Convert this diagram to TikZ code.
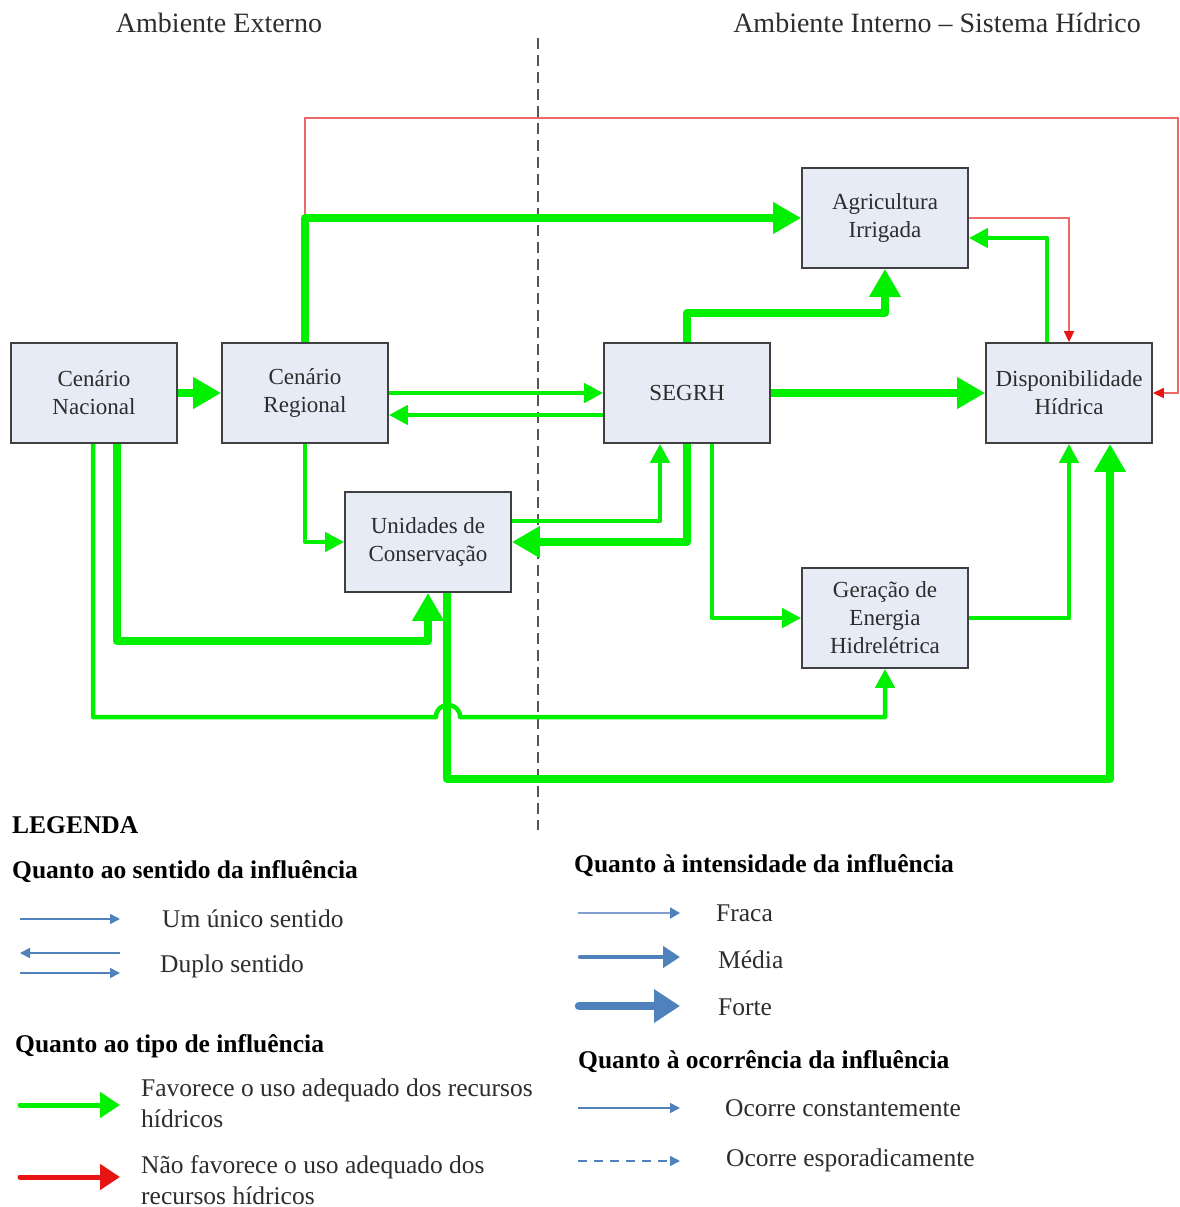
\documentclass[tikz,border=0pt]{standalone}
\usepackage{fontspec}
\setmainfont{Liberation Serif}
\usetikzlibrary{arrows.meta}
\definecolor{gr}{RGB}{0,240,0}
\definecolor{boxfill}{RGB}{230,235,246}
\definecolor{boxline}{RGB}{64,64,64}
\definecolor{redl}{RGB}{236,105,105}
\definecolor{redh}{RGB}{232,20,20}
\definecolor{lblue}{RGB}{79,129,189}
\definecolor{lbluelight}{RGB}{128,158,208}
\definecolor{txt}{RGB}{45,45,45}
\definecolor{dashc}{RGB}{85,85,85}
\begin{document}
\begin{tikzpicture}[x=1pt,y=-1pt,
  box/.style={draw=boxline, line width=1.8pt, fill=boxfill, minimum width=166pt, minimum height=100pt, inner sep=0pt, align=center, font=\fontsize{23}{28}\selectfont, text=txt},
  gthick/.style={draw=gr, line width=8pt, line join=round, -{Triangle[length=28pt,width=30pt]}},
  gmed/.style={draw=gr, line width=4.5pt, line join=round, -{Triangle[length=19pt,width=19pt]}},
  rline/.style={draw=redl, line width=1.6pt, -{Triangle[length=11pt,width=10pt,color=redh]}},
  hdr/.style={font=\fontsize{28}{32}\selectfont, text=txt, inner sep=0pt},
  lgt/.style={font=\fontsize{25.5}{31}\selectfont, text=txt, inner sep=0pt, anchor=west, align=left},
  lgb/.style={font=\fontsize{25.5}{31}\selectfont\bfseries, text=black, inner sep=0pt, anchor=west},
  bthin/.style={draw=lblue, line width=1.6pt, -{Triangle[length=10pt,width=10pt]}},
  bfraca/.style={draw=lbluelight, line width=2pt, -{Triangle[length=10pt,width=11pt,color=lblue]}},
  bmedia/.style={draw=lblue, line width=4.5pt, line cap=round, -{Triangle[length=17pt,width=21pt]}},
  bforte/.style={draw=lblue, line width=8.5pt, line cap=round, -{Triangle[length=26pt,width=32pt]}},
  bdash/.style={draw=lblue, line width=1.6pt, dash pattern=on 9pt off 7pt, -{Triangle[length=10pt,width=10pt]}},
  lgreen/.style={draw=gr, line width=5pt, line cap=round, -{Triangle[length=20pt,width=25pt]}},
  lred/.style={draw=redh, line width=5pt, line cap=round, -{Triangle[length=20pt,width=25pt]}},
  divider/.style={draw=dashc, line width=1.8pt, dash pattern=on 11pt off 6pt}
]
\useasboundingbox (0,0) rectangle (1179,1207);

% headers
\node[hdr] (hext) at (219,23) {Ambiente Externo};
\node[hdr] (hint) at (937,23) {Ambiente Interno – Sistema Hídrico};

% divider
\coordinate (dtop) at (538,38);
\coordinate (dbot) at (538,830);
\draw[divider] (dtop) -- (dbot);

% boxes
\node[box] (nac) at (94,393) {Cenário\\Nacional};
\node[box] (reg) at (305,393) {Cenário\\Regional};
\node[box] (seg) at (687,393) {SEGRH};
\node[box] (disp) at (1069,393) {Disponibilidade\\Hídrica};
\node[box] (agri) at (885,218) {Agricultura\\Irrigada};
\node[box] (uc) at (428,542) {Unidades de\\Conservação};
\node[box] (ger) at (885,618) {Geração de\\Energia\\Hidrelétrica};

% red connectors
\coordinate (redTR) at (1178,118);
\draw[rline] (reg.north) |- (redTR) |- (disp.east);
\draw[rline] (agri.east) -| (disp.north);

% green connectors
\draw[gthick] (reg.north) |- (agri.west);
\draw[gmed] ([xshift=-22pt]disp.north) |- ([yshift=-20pt]agri.east);
\draw[gthick] (seg.north) -- ++(0,-29) -| (agri.south);
\draw[gthick] (seg.east) -- (disp.west);
\draw[gthick] (nac.east) -- (reg.west);
\draw[gmed] (reg.east) -- (seg.west);
\draw[gmed] ([yshift=-22pt]seg.west) -- ([yshift=-22pt]reg.east);
\draw[gmed] (reg.south) |- (uc.west);
\draw[gmed] ([yshift=21pt]uc.east) -| ([xshift=-27pt]seg.south);
\draw[gthick] (seg.south) |- (uc.east);
\draw[gmed] ([xshift=25pt]seg.south) |- (ger.west);
\draw[gmed] (ger.east) -| (disp.south);
\draw[gthick] ([xshift=23pt]nac.south) -- ++(0,197) -| (uc.south);
\draw[gthick] ([xshift=19pt]uc.south) -- ++(0,186) -| ([xshift=41pt]disp.south);
\coordinate (hopL) at (436,717);
\coordinate (hopR) at (460,717);
\draw[gmed] ([xshift=-1pt]nac.south) |- (hopL) .. controls +(0,-16) and +(0,-16) .. (hopR) -| (ger.south);

% legend texts
\node[lgb] (lgd) at (12,825) {LEGENDA};
\node[lgb] (q1) at (12,872) {Quanto ao sentido da influência};
\node[lgt] (t1) at (162,919) {Um único sentido};
\node[lgt] (t2) at (160,966) {Duplo sentido};
\node[lgb] (q2) at (15,1046) {Quanto ao tipo de influência};
\node[lgt] (t3) at (141,1103) {Favorece o uso adequado dos recursos\\hídricos};
\node[lgt] (t4) at (141,1180) {Não favorece o uso adequado dos\\recursos hídricos};
\node[lgb] (q3) at (574,866) {Quanto à intensidade da influência};
\node[lgt] (t5) at (716,913) {Fraca};
\node[lgt] (t6) at (718,960) {Média};
\node[lgt] (t7) at (718,1007) {Forte};
\node[lgb] (q4) at (578,1062) {Quanto à ocorrência da influência};
\node[lgt] (t8) at (725,1108) {Ocorre constantemente};
\node[lgt] (t9) at (726,1160) {Ocorre esporadicamente};

% legend samples
\coordinate (a1s) at (20,919);   \coordinate (a1e) at (120,919);
\coordinate (a2s) at (120,953);  \coordinate (a2e) at (20,953);
\coordinate (a3s) at (20,973);   \coordinate (a3e) at (120,973);
\coordinate (a4s) at (20,1105);  \coordinate (a4e) at (120,1105);
\coordinate (a5s) at (20,1177);  \coordinate (a5e) at (120,1177);
\coordinate (b1s) at (578,913);  \coordinate (b1e) at (680,913);
\coordinate (b2s) at (580,957);  \coordinate (b2e) at (680,957);
\coordinate (b3s) at (579,1006); \coordinate (b3e) at (680,1006);
\coordinate (b4s) at (578,1108); \coordinate (b4e) at (680,1108);
\coordinate (b5s) at (578,1161); \coordinate (b5e) at (680,1161);
\draw[bthin] (a1s) -- (a1e);
\draw[bthin] (a2s) -- (a2e);
\draw[bthin] (a3s) -- (a3e);
\draw[lgreen] (a4s) -- (a4e);
\draw[lred] (a5s) -- (a5e);
\draw[bfraca] (b1s) -- (b1e);
\draw[bmedia] (b2s) -- (b2e);
\draw[bforte] (b3s) -- (b3e);
\draw[bthin] (b4s) -- (b4e);
\draw[bdash] (b5s) -- (b5e);
\end{tikzpicture}
\end{document}
